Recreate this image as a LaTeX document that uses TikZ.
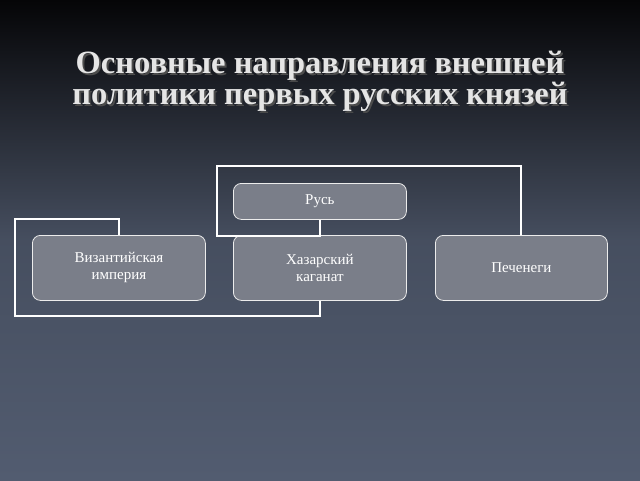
\documentclass[tikz,border=0pt]{standalone}
\usepackage{fontspec}
\setmainfont{Liberation Serif}
\begin{document}
\begin{tikzpicture}[x=1pt,y=-1pt,
  box/.style={draw=white!85!gray,line width=0.8pt,fill=boxgray,rounded corners=8pt,text=white,font=\fontsize{15}{17}\selectfont,align=center,anchor=north west,inner sep=0pt},
  titlefont/.style={font=\bfseries\fontsize{32.5}{31}\selectfont,align=center},
  link/.style={draw=white,line width=2pt}]
\definecolor{boxgray}{HTML}{7A7E89}
\definecolor{bgtop}{HTML}{050507}
\definecolor{bgbot}{HTML}{525C70}
\useasboundingbox (0,0) rectangle (640,480);
\shade[top color=bgtop,bottom color=bgbot,middle color=bgbot!85!black] (0,0) rectangle (640,480);
\node[text=black!70,titlefont] (shadow) at (322,83) {Основные направления внешней\\политики первых русских князей};
\node[text=white!80!gray,titlefont] (title) at (320,81) {Основные направления внешней\\политики первых русских князей};
\node[box,minimum width=173pt,minimum height=36pt] (rus) at (233,183) {Русь};
\node[box,minimum width=173pt,minimum height=65pt] (viz) at (32,235) {Византийская\\империя};
\node[box,minimum width=173pt,minimum height=65pt] (haz) at (233,235) {Хазарский\\каганат};
\node[box,minimum width=172pt,minimum height=65pt] (pech) at (435,235) {Печенеги};
\draw[link] (rus.south) -- ++(0,16) -| (217,166) -| (pech.north);
\draw[link] (viz.north) -- ++(0,-16) -| (15,316) -| (haz.south);
\end{tikzpicture}
\end{document}
